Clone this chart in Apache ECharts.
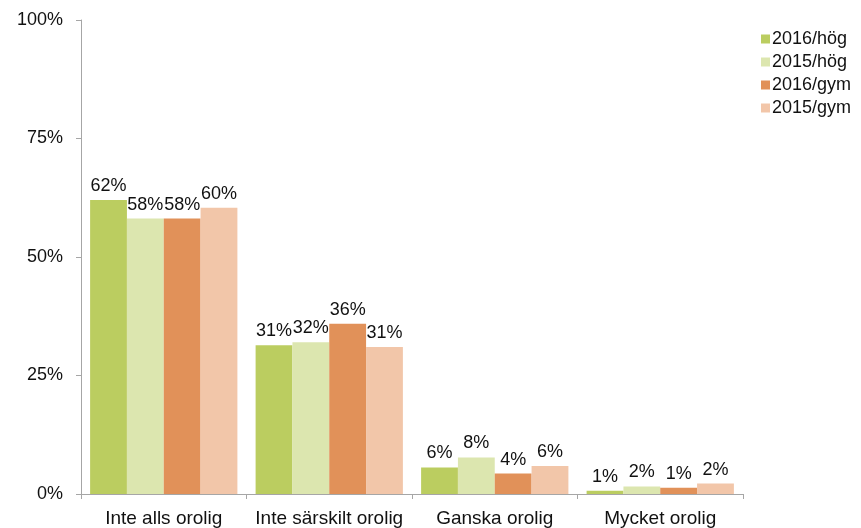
<!DOCTYPE html>
<html>
<head>
<meta charset="utf-8">
<script src="https://cdn.jsdelivr.net/npm/echarts@6/dist/echarts.min.js"></script>
<style>
html, body { margin: 0; padding: 0; background: #fff; }
#chart { width: 861px; height: 528px; }
</style>
</head>
<body>
<div id="chart"></div>
<script>
// kategorier och serier
const categories = ['Inte alls orolig', 'Inte särskilt orolig', 'Ganska orolig', 'Mycket orolig']
const seriesNames = ['2016/hög', '2015/hög', '2016/gym', '2015/gym']
const hog2016 = [62.0, 31.4, 5.6, 0.7]
const hog2015 = [58.1, 32.0, 7.7, 1.6]
const gym2016 = [58.1, 35.9, 4.3, 1.3]
const gym2015 = [60.4, 31.0, 5.9, 2.2]
const yTicks = [0, 25, 50, 75, 100]

const colors = ['#bbcd60', '#dce6af', '#e19159', '#f2c6a9']
const font = 'Liberation Sans, Arial, sans-serif'
const textColor = '#111'

const chart = echarts.init(document.getElementById('chart'))

const makeSeries = (name, data, i) => ({
    name: name,
    type: 'bar',
    data: data,
    barGap: '0%',
    barCategoryGap: '11%',
    itemStyle: { color: colors[i] },
    label: {
        show: true,
        position: 'top',
        distance: 5,
        color: textColor,
        fontSize: 18,
        fontFamily: font,
        formatter: p => Math.round(p.value) + '%'
    }
})

const option = {
    animation: false,
    grid: { left: 81, right: 118, top: 20, bottom: 34, containLabel: false },
    legend: {
        orient: 'vertical',
        left: 761,
        top: 30,
        padding: 0,
        itemWidth: 9,
        itemHeight: 9,
        itemGap: 5,
        icon: 'rect',
        textStyle: { fontSize: 18, fontFamily: font, color: textColor, padding: [0, 0, 0, -3] },
        data: seriesNames
    },
    xAxis: {
        type: 'category',
        data: categories,
        axisLine: { lineStyle: { color: '#a6a6a6' } },
        axisTick: { show: true, length: 5, alignWithLabel: false, lineStyle: { color: '#a6a6a6' } },
        axisLabel: { fontSize: 19, fontFamily: font, color: textColor, margin: 15, interval: 0 }
    },
    yAxis: {
        type: 'value',
        min: yTicks[0],
        max: yTicks[yTicks.length - 1],
        interval: 25,
        splitLine: { show: false },
        axisLine: { show: true, lineStyle: { color: '#a6a6a6' } },
        axisTick: { show: true, length: 5, lineStyle: { color: '#a6a6a6' } },
        axisLabel: { fontSize: 18, fontFamily: font, color: textColor, margin: 18, formatter: '{value}%' }
    },
    series: [
        makeSeries(seriesNames[0], hog2016, 0),
        makeSeries(seriesNames[1], hog2015, 1),
        makeSeries(seriesNames[2], gym2016, 2),
        makeSeries(seriesNames[3], gym2015, 3)
    ]
}
chart.setOption(option)
</script>
</body>
</html>
